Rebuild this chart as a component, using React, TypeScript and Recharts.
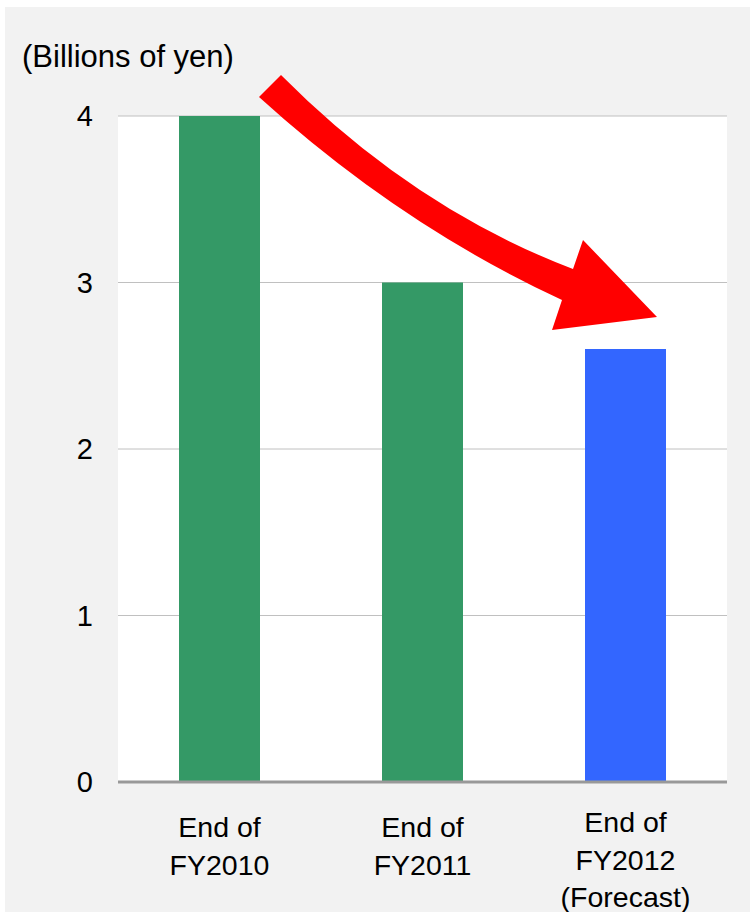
import React from "react";
import { BarChart, Bar, XAxis, YAxis, CartesianGrid, Cell, Customized } from "recharts";

const categories = ["End of\nFY2010", "End of\nFY2011", "End of\nFY2012\n(Forecast)"];
const values = [4, 3, 2.6];
const barColors = ["#349966", "#349966", "#3366ff"];
const yTicks = [0, 1, 2, 3, 4];
const unitLabel = "(Billions of yen)";

const data = categories.map((name, i) => ({ name, value: values[i] }));

const FONT = "'Liberation Sans', Arial, sans-serif";

const XTick = (props: any) => {
  const { x, y, payload } = props;
  const lines = String(payload.value).split("\n");
  const first = lines.length >= 3 ? 50 : 55;
  return (
    <text x={x} y={y} textAnchor="middle" fontSize={28.5} fontFamily={FONT} fill="#000">
      {lines.map((l, i) => (
        <tspan key={i} x={x} y={y + first + i * 37.5}>
          {l}
        </tspan>
      ))}
    </text>
  );
};

const Decorations = () => (
  <g>
    <text x={22} y={67} fontSize={31} fontFamily={FONT} fill="#000">
      {unitLabel}
    </text>
    <path
      d="M281,75 Q413,208 573,269 L583,240 L657,317 L552,330 L562,300 Q400,225 259,97 Z"
      fill="#ff0000"
    />
  </g>
);

export default function App() {
  return (
    <div style={{ position: "absolute", left: 0, top: 0, width: 750, height: 912, background: "#fff" }}>
      <div style={{ position: "absolute", left: 5, top: 7, width: 745, height: 905, background: "#f2f2f2" }} />
      <div style={{ position: "absolute", left: 0, top: 0 }}>
        <BarChart
          width={750}
          height={912}
          data={data}
          margin={{ top: 116, right: 23, left: 0, bottom: 0 }}
          barCategoryGap={0}
        >
          <CartesianGrid horizontal vertical={false} fill="#ffffff" stroke="#c0c0c0" strokeWidth={1} />
          <XAxis
            dataKey="name"
            height={130}
            tickLine={false}
            tickSize={0}
            tickMargin={0}
            axisLine={{ stroke: "#999999", strokeWidth: 3 }}
            tick={<XTick />}
            interval={0}
          />
          <YAxis
            width={118}
            domain={[0, 4]}
            ticks={yTicks}
            axisLine={false}
            tickLine={false}
            tickSize={0}
            tickMargin={25}
            tick={{ fontSize: 29, fontFamily: FONT, fill: "#000" }}
          />
          <Bar dataKey="value" barSize={81} isAnimationActive={false}>
            {data.map((d, i) => (
              <Cell key={d.name} fill={barColors[i]} />
            ))}
          </Bar>
          <Customized component={Decorations} />
        </BarChart>
      </div>
    </div>
  );
}
